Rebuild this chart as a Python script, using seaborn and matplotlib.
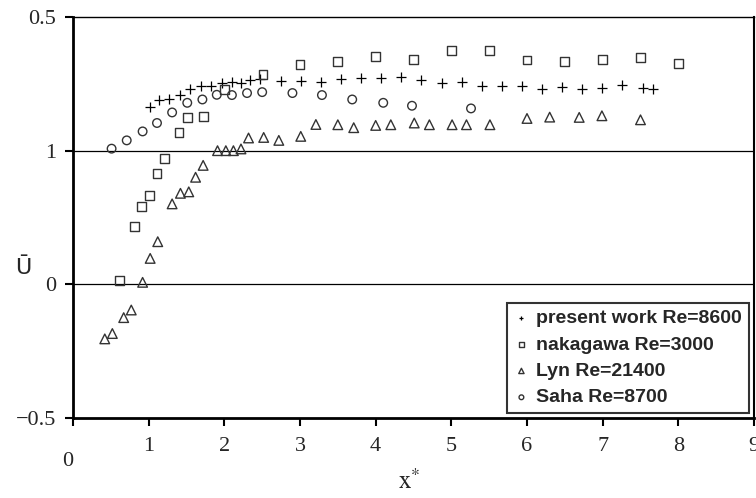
import matplotlib
matplotlib.use("Agg")
import matplotlib.pyplot as plt
import seaborn as sns
import pandas as pd

# ---- data ----
present_x = [1.02, 1.14, 1.27, 1.41, 1.55, 1.69, 1.83, 1.97, 2.10, 2.22, 2.34, 2.47,
             2.75, 3.01, 3.28, 3.54, 3.81, 4.07, 4.33, 4.60, 4.88, 5.14, 5.40, 5.67,
             5.94, 6.20, 6.46, 6.73, 6.99, 7.25, 7.53, 7.66]
present_y = [1.33, 1.38, 1.39, 1.42, 1.465, 1.487, 1.485, 1.505, 1.513, 1.505, 1.525, 1.535,
             1.522, 1.522, 1.517, 1.535, 1.54, 1.54, 1.554, 1.525, 1.505, 1.513, 1.483, 1.483,
             1.483, 1.46, 1.475, 1.465, 1.466, 1.493, 1.47, 1.465]

naka_x = [0.61, 0.81, 0.91, 1.01, 1.11, 1.21, 1.40, 1.51, 1.72, 2.00, 2.51,
          3.0, 3.5, 4.0, 4.5, 5.0, 5.5, 6.0, 6.5, 7.0, 7.5, 8.0]
naka_y = [0.028, 0.433, 0.582, 0.666, 0.828, 0.94, 1.134, 1.249, 1.256, 1.455, 1.567,
          1.646, 1.669, 1.704, 1.681, 1.749, 1.749, 1.679, 1.666, 1.684, 1.696, 1.654]

lyn_x = [0.42, 0.52, 0.67, 0.77, 0.92, 1.02, 1.12, 1.31, 1.42, 1.53, 1.62, 1.72,
         1.91, 2.02, 2.12, 2.22, 2.32, 2.52, 2.72, 3.01, 3.21, 3.50, 3.71, 4.00,
         4.20, 4.51, 4.71, 5.01, 5.20, 5.51, 6.00, 6.30, 6.69, 6.99, 7.50]
lyn_y = [-0.408, -0.368, -0.249, -0.192, 0.015, 0.194, 0.319, 0.602, 0.681, 0.692, 0.801, 0.89,
         1.0, 1.0, 1.0, 1.013, 1.095, 1.099, 1.077, 1.107, 1.196, 1.194, 1.172, 1.189,
         1.194, 1.207, 1.194, 1.194, 1.194, 1.194, 1.241, 1.251, 1.249, 1.261, 1.231]

saha_x = [0.51, 0.71, 0.92, 1.11, 1.31, 1.51, 1.71, 1.90, 2.10, 2.30, 2.50, 2.90,
          3.29, 3.69, 4.10, 4.48, 5.26]
saha_y = [1.015, 1.077, 1.144, 1.207, 1.286, 1.358, 1.383, 1.418, 1.416, 1.431, 1.438, 1.431,
          1.416, 1.383, 1.358, 1.336, 1.316]

labels = ["present work Re=8600", "nakagawa Re=3000", "Lyn Re=21400", "Saha Re=8700"]
ytick_vals = [-1, 0, 1, 2]
ytick_labels = ["\u22120.5", "0", "1", "0.5"]
xtick_vals = [1, 2, 3, 4, 5, 6, 7, 8, 9]
xtick_labels = ["1", "2", "3", "4", "5", "6", "7", "8", "9"]

df = pd.concat([
    pd.DataFrame({"x": present_x, "y": present_y, "s": labels[0]}),
    pd.DataFrame({"x": naka_x, "y": naka_y, "s": labels[1]}),
    pd.DataFrame({"x": lyn_x, "y": lyn_y, "s": labels[2]}),
    pd.DataFrame({"x": saha_x, "y": saha_y, "s": labels[3]}),
])

sns.set_style("white")
plt.rcParams["mathtext.fontset"] = "stix"

fig = plt.figure(figsize=(7.56, 4.98), dpi=100)
ax = fig.add_axes([73/756, 1-418/498, 681/756, 401/498])

ec = "#333333"
styles = {
    labels[0]: dict(marker="+", s=42, color="black", linewidths=0.9),
    labels[1]: dict(marker="s", s=40, facecolor="none", edgecolor=ec, linewidths=1.0),
    labels[2]: dict(marker="^", s=48, facecolor="none", edgecolor=ec, linewidths=1.0),
    labels[3]: dict(marker="o", s=38, facecolor="none", edgecolor=ec, linewidths=1.0),
}
for lab in labels:
    sub = df[df["s"] == lab]
    sns.scatterplot(data=sub, x="x", y="y", ax=ax, label=lab, zorder=3, **styles[lab])

ax.axhline(1, color="black", lw=0.9, zorder=1)
ax.axhline(0, color="black", lw=0.9, zorder=1)

ax.set_xlim(0, 9)
ax.set_ylim(-1, 2)
ax.set_xticks([0] + xtick_vals)
ax.set_xticklabels([""] + xtick_labels)
ax.set_yticks(ytick_vals)
ax.set_yticklabels(ytick_labels)
ax.tick_params(axis="both", direction="out", length=6, width=1.5, color="black",
               labelsize=16, left=True, bottom=True)
ax.tick_params(axis="x", pad=8)
ax.tick_params(axis="y", pad=6)
for lab in ax.get_xticklabels() + ax.get_yticklabels():
    lab.set_fontfamily("Liberation Serif")

for side in ["left", "bottom"]:
    ax.spines[side].set_linewidth(2.0)
ax.spines["top"].set_linewidth(1.0)
ax.spines["right"].set_linewidth(1.5)
for sp in ax.spines.values():
    sp.set_color("black")
    sp.set_visible(True)

ax.set_xlabel("")
ax.set_ylabel("")
fig.text(68/756, 1-461/498, "0", ha="center", va="center", fontsize=16,
         family="Liberation Serif")
fig.text(409/756, 1-481/498, r"$\mathrm{x}^{*}$", ha="center", va="center", fontsize=18)
fig.text(23/756, 1-268/498, "\u016a", ha="center", va="center", fontsize=16,
         family="DejaVu Sans")

leg = ax.legend(loc="lower right", bbox_to_anchor=(0.992, 0.012), frameon=True,
                fancybox=False, markerscale=0.55, handletextpad=0.35, handlelength=0.8,
                borderpad=0.35, labelspacing=0.45, borderaxespad=0,
                prop={"family": "Liberation Sans", "weight": "bold", "size": 14})
leg.get_frame().set_edgecolor("black")
leg.get_frame().set_linewidth(1.5)

fig.savefig("out.png", dpi=100)
